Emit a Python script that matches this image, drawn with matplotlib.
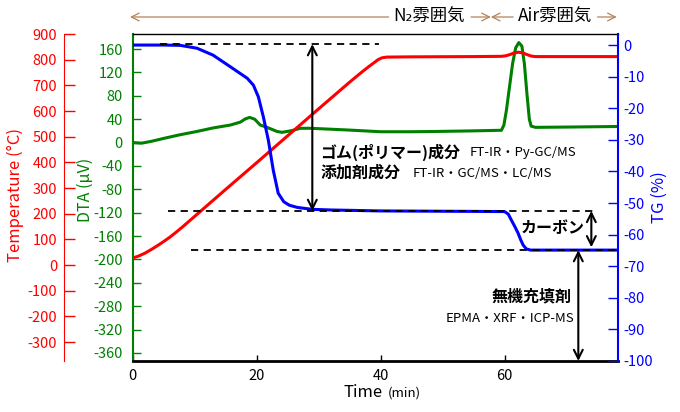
import matplotlib
matplotlib.use('Agg')
import matplotlib.pyplot as plt

plt.rcParams['font.family'] = ['Noto Sans CJK JP', 'DejaVu Sans']
plt.rcParams['axes.unicode_minus'] = False

# 温度 (°C)
time_temp = [0, 1, 2, 3, 4, 5, 6, 7, 8, 9, 10, 12, 15, 20, 25, 30, 35, 37, 38, 39,
             39.6, 40.2, 41, 45, 55, 59.5, 60.2, 60.9, 61.5, 62.2, 62.9, 63.6, 64.3,
             65, 70, 78.3]
temp = [27, 35, 46, 60, 75, 91, 108, 127, 147, 168, 189, 231, 294, 398, 503, 608,
        712, 752, 771, 789, 800, 807, 810, 811, 812, 813, 815, 820, 826, 829, 827,
        820, 814, 812, 812, 812]

# DTA (µV)
time_dta = [0, 1.5, 3, 5, 7.5, 10.4, 13, 15.8, 17.4, 18.2, 18.9, 19.7, 20.6, 21.7,
            23.3, 24.1, 25.5, 27.1, 28.7, 34.7, 40, 45, 49.2, 55, 59.5, 59.9, 60.3,
            60.8, 61.3, 61.8, 62.3, 62.8, 63.2, 63.6, 64.0, 64.3, 65, 70, 78.3]
dta = [0, -1, 2, 7, 13, 19, 25, 30, 35, 40.5, 43, 40, 30, 26, 19, 17.5, 20, 24.4,
       24.4, 21.5, 18.5, 18.5, 19, 20, 21, 30, 55, 95, 135, 162, 171, 165, 135, 85,
       40, 28, 26, 26.5, 27.5]

# TG (%)
time_tg = [0, 5, 7.7, 10.4, 13, 15.8, 18.5, 19.5, 20.3, 21.1, 21.9, 22.7, 23.5,
           24.4, 25.3, 26.6, 29, 32, 40, 50, 60, 60.6, 61.1, 61.7, 62.2, 62.6, 63,
           63.5, 64.2, 70, 78.3]
tg = [0, 0, -0.1, -1, -3.2, -6.9, -10.5, -12.7, -16.4, -22.7, -30, -39.6, -46.9,
      -49.6, -50.7, -51.4, -52, -52.2, -52.5, -52.6, -52.7, -53.5, -55.4, -57.6,
      -59.6, -61.6, -63.3, -64.5, -64.9, -64.9, -64.9]

time_ticks = [0, 20, 40, 60]
temp_ticks = list(range(-300, 1000, 100))
dta_ticks = list(range(-360, 200, 40))
tg_ticks = list(range(-100, 10, 10))

# TG levels for the dashed guide lines (%, start min, end min)
guide_levels = [0.3, -52.5, -64.9]
guide_starts = [4.4, 5.7, 9.5]
guide_ends = [39.7, 74.8, 78.1]

fig = plt.figure(figsize=(6.8, 4.12), dpi=100)
ax = fig.add_axes([132.5 / 680, 51 / 412, 485.5 / 680, 327 / 412])
ax_t = ax.twinx()
ax_g = ax.twinx()

# DTA
ax.plot(time_dta, dta, color='green', lw=2.2)
ax.set_xlim(0, 78.3)
ax.set_ylim(-373.7, 185.7)
ax.set_xticks(time_ticks)
ax.set_yticks(dta_ticks)
ax.tick_params(axis='y', direction='in', length=6, width=1, color='green',
               labelcolor='green', labelsize=10.5, pad=7)
ax.tick_params(axis='x', direction='in', length=4, width=1, labelsize=10.5, pad=6)
ax.spines['left'].set_color('green')
ax.spines['left'].set_linewidth(1.5)
ax.spines['bottom'].set_linewidth(2)
ax.spines['top'].set_linewidth(1)
ax.spines['right'].set_visible(False)

# 温度
ax_t.plot(time_temp, temp, color='red', lw=2.2)
ax_t.set_ylim(-374, 900)
ax_t.set_yticks(temp_ticks)
ax_t.yaxis.set_ticks_position('left')
ax_t.spines['left'].set_position(('axes', (64 - 132.5) / 485.5))
ax_t.spines['left'].set_color('red')
for s in ['right', 'top', 'bottom']:
    ax_t.spines[s].set_visible(False)
ax_t.tick_params(axis='y', direction='in', length=8, width=1, color='red',
                 labelcolor='red', labelsize=10.5, pad=5)

# TG
ax_g.plot(time_tg, tg, color='blue', lw=2.2)
ax_g.set_ylim(-100, 3.5)
ax_g.set_yticks(tg_ticks)
for s in ['left', 'top', 'bottom']:
    ax_g.spines[s].set_visible(False)
ax_g.spines['right'].set_color('blue')
ax_g.spines['right'].set_linewidth(1.5)
ax_g.tick_params(axis='y', direction='in', length=7, width=1, color='blue',
                 labelcolor='blue', labelsize=10.5, pad=4)

# 軸ラベル
fig.text(15 / 680, 1 - 195 / 412, 'Temperature (°C)', color='red', fontsize=12,
         rotation=90, ha='center', va='center')
fig.text(85 / 680, 1 - 190 / 412, 'DTA (µV)', color='green', fontsize=11.5,
         rotation=90, ha='center', va='center')
fig.text(659 / 680, 1 - 197 / 412, 'TG (%)', color='blue', fontsize=12,
         rotation=90, ha='center', va='center')

# 破線
for lv, x0, x1 in zip(guide_levels, guide_starts, guide_ends):
    ax_g.plot([x0, x1], [lv, lv], ls=(0, (4, 3)), color='black', lw=1.3)

# 両矢印
arw = dict(arrowstyle='<->', lw=1.5, color='black', shrinkA=0, shrinkB=0,
           mutation_scale=16)
ax_g.annotate('', xy=(29.0, guide_levels[0]), xytext=(29.0, guide_levels[1]),
              arrowprops=arw)
ax_g.annotate('', xy=(74.0, guide_levels[1]), xytext=(74.0, -64.0),
              arrowprops=arw)
ax_g.annotate('', xy=(71.9, guide_levels[2]), xytext=(71.9, -100),
              arrowprops=arw, annotation_clip=False)

# 注記
ax_g.text(30.3, -33.9, 'ゴム(ポリマー)成分', fontsize=11.5, fontweight='bold',
          va='center')
ax_g.text(54.3, -33.9, 'FT-IR・Py-GC/MS', fontsize=9.5, va='center')
ax_g.text(30.3, -40.5, '添加剤成分', fontsize=11.5, fontweight='bold', va='center')
ax_g.text(45.1, -40.5, 'FT-IR・GC/MS・LC/MS', fontsize=9.5, va='center')
ax_g.text(67.7, -57.9, 'カーボン', fontsize=11.5, fontweight='bold',
          ha='center', va='center')
ax_g.text(70.8, -79.7, '無機充填剤', fontsize=11.5, fontweight='bold',
          ha='right', va='center')
ax_g.text(71.3, -86.4, 'EPMA・XRF・ICP-MS', fontsize=9.5, ha='right', va='center')

# 雰囲気の矢印
brown = '#b5835a'
trx = ax.get_xaxis_transform()
ytop = 1.052
arb = dict(arrowstyle='->', lw=0.9, color=brown, shrinkA=0, shrinkB=0,
           mutation_scale=14)
for tail, tip in [(41.3, -0.4), (54.6, 57.8), (61.4, 57.8), (75.0, 78.1)]:
    ax.annotate('', xy=(tip, ytop), xytext=(tail, ytop), xycoords=trx,
                textcoords=trx, arrowprops=arb, annotation_clip=False)
ax.text(47.8, ytop, 'N₂雰囲気', transform=trx, fontsize=12.5, ha='center',
        va='center')
ax.text(68.2, ytop, 'Air雰囲気', transform=trx, fontsize=12.5, ha='center',
        va='center')

# x軸ラベル
ax.text(40.4, -0.110, 'Time', transform=trx, fontsize=12, ha='right',
        va='baseline')
ax.text(41.2, -0.110, '(min)', transform=trx, fontsize=9.5, ha='left',
        va='baseline')

fig.savefig('out.png', dpi=100)
